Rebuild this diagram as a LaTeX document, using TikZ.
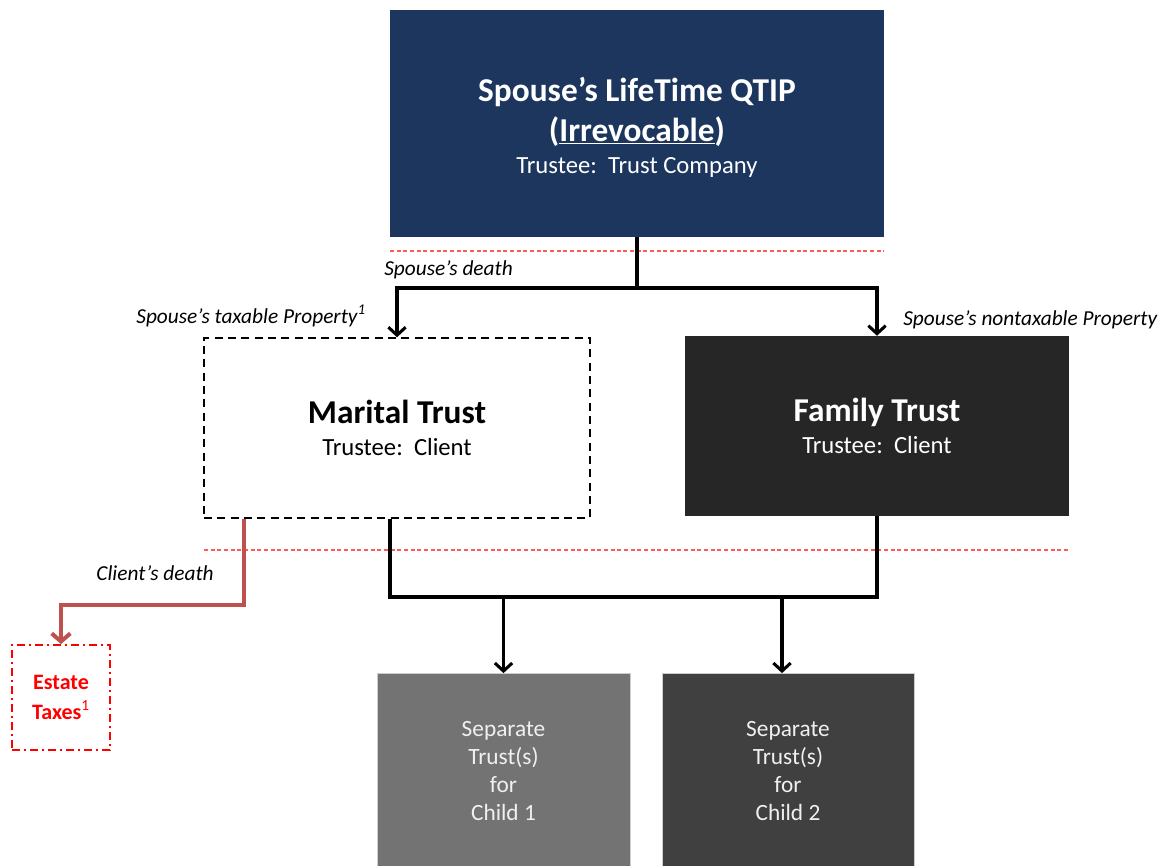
\documentclass[tikz,border=0pt]{standalone}
\usepackage{fontspec}
\setmainfont{Carlito}
\usepackage{tikz}
\usetikzlibrary{arrows.meta, calc, positioning}

\definecolor{qtipblue}{RGB}{28,54,94}
\definecolor{familygray}{RGB}{38,38,38}
\definecolor{childone}{RGB}{115,115,115}
\definecolor{childtwo}{RGB}{64,64,64}
\definecolor{deathred}{RGB}{192,80,77}
\definecolor{sepred}{RGB}{255,90,90}

\tikzset{
  box/.style={rectangle, align=center, inner sep=0pt},
  link/.style={line width=2.3pt},
  flow/.style={link, -{Straight Barb[length=6pt,width=13pt]}},
  lbl/.style={font=\fontsize{16}{19}\selectfont\itshape, inner sep=0pt},
  sep/.style={sepred, line width=0.8pt, dash pattern=on 3pt off 2pt},
}

\newcommand{\bigfont}{\fontsize{25}{30}\selectfont\bfseries}
\newcommand{\subfont}{\fontsize{18.5}{22}\selectfont}

\begin{document}
\begin{tikzpicture}[x=0.75pt, y=-0.75pt]
	\useasboundingbox (0,0) rectangle (1159,865);
	\coordinate (fork) at (637,288);
	\coordinate (join) at (637,597);

	% lifetime QTIP
	\node[box, fill=qtipblue, text=white, minimum width=370.5pt, minimum height=170.25pt,
		font=\fontsize{18.5}{30}\selectfont] (qtip) at (637,123.5)
		{\rule{0pt}{24pt}{\bigfont Spouse's LifeTime QTIP}\\{\bigfont (\underline{Irrevocable})}\\[-6pt]{\subfont Trustee:\ \ Trust Company}};
	\draw[sep] (390,251) -- (884,251);

	% marital and family trusts
	\node[box, draw, line width=1.1pt, dash pattern=on 6pt off 4pt, minimum width=289.5pt, minimum height=135pt,
		font=\fontsize{18.5}{24}\selectfont] (marital) at (397,428)
		{{\bigfont Marital Trust}\\{\subfont Trustee:\ \ Client}};
	\node[box, fill=familygray, text=white, minimum width=288pt, minimum height=135pt,
		font=\fontsize{18.5}{24}\selectfont] (family) at (877,426)
		{{\bigfont Family Trust}\\{\subfont Trustee:\ \ Client}};

	\node[lbl, anchor=west] (sdeath) at (384,270) {Spouse's death};
	\node[lbl, anchor=east] (taxable) at (366,316) {Spouse's taxable Property\textsuperscript{1}};
	\node[lbl, anchor=west] (nontaxable) at (903,320) {Spouse's nontaxable Property};

	\draw[link] (qtip.south) -- (fork);
	\draw[flow] (fork) -| (marital.north);
	\draw[flow] (fork) -| (family.north);
	\draw[sep] (204,550) -- (1069,550);

	% estate taxes
	\node[box, draw=red, text=red, line width=1.4pt, dash pattern=on 6pt off 3pt on 1.5pt off 3pt,
		minimum width=73.5pt, minimum height=78.75pt, font=\fontsize{16.5}{22}\selectfont\bfseries] (estate) at (61,697.5)
		{Estate\\Taxes\textsuperscript{\mdseries 1}};
	\node[lbl, anchor=east] (cdeath) at (214,573) {Client's death};
	\draw[deathred, line width=3pt, -{Straight Barb[length=6pt,width=14pt]}]
		($(marital.south west)+(41,0)$) -- ++(0,86) -| (estate.north);

	% separate trusts
	\node[box, fill=childone, draw=white!80!black, line width=0.6pt, text=white!94!black, minimum width=189.75pt, minimum height=146.25pt,
		font=\fontsize{17.5}{21}\selectfont] (child1) at (503.5,771) {Separate\\Trust(s)\\for\\Child 1};
	\node[box, fill=childtwo, draw=white!80!black, line width=0.6pt, text=white!94!black, minimum width=189pt, minimum height=146.25pt,
		font=\fontsize{17.5}{21}\selectfont] (child2) at (788,771) {Separate\\Trust(s)\\for\\Child 2};

	\draw[link] ($(marital.south)+(-7,0)$) |- (join) -| (family.south);
	\draw[flow] (child1.north |- join) -- (child1.north);
	\draw[flow] ($(child2.north |- join)+(-6,0)$) -- ($(child2.north)+(-6,0)$);
\end{tikzpicture}
\end{document}
